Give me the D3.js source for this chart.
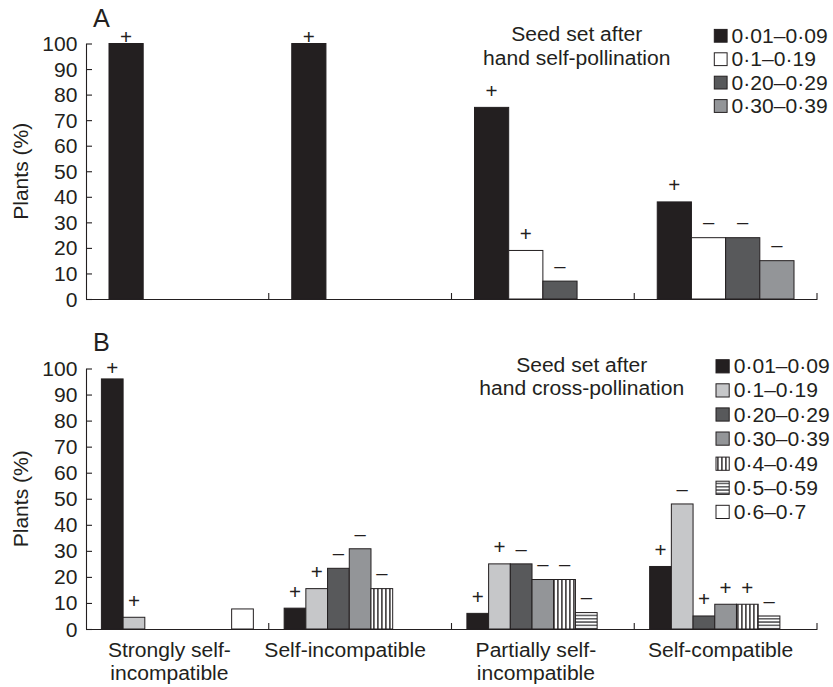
<!DOCTYPE html>
<html><head><meta charset="utf-8">
<script src="https://cdn.jsdelivr.net/npm/d3@7"></script>
<style>body{margin:0;background:#fff}svg{display:block}text{font-family:"Liberation Sans",Arial,Helvetica,sans-serif;fill:#231f20}</style>
</head><body><svg id="c" width="833" height="687"></svg>
<script>
// ---------------- DATA ----------------
const categories = ["Strongly self-incompatible", "Self-incompatible", "Partially self-incompatible", "Self-compatible"];
const categoryLines = [["Strongly self-", "incompatible"], ["Self-incompatible"], ["Partially self-", "incompatible"], ["Self-compatible"]];
const yTicks = [0, 10, 20, 30, 40, 50, 60, 70, 80, 90, 100];

// Panel A: seed set after hand self-pollination
const titleA = ["Seed set after", "hand self-pollination"];
const seriesA = ["0·01–0·09", "0·1–0·19", "0·20–0·29", "0·30–0·39"];
const valuesA = [
  [100, null, null, null],
  [100, null, null, null],
  [75, 19, 7, null],
  [38, 24, 24, 15]
];
const signsA = [
  ["+", "", "", ""],
  ["+", "", "", ""],
  ["+", "+", "–", ""],
  ["+", "–", "–", "–"]
];

// Panel B: seed set after hand cross-pollination
const titleB = ["Seed set after", "hand cross-pollination"];
const seriesB = ["0·01–0·09", "0·1–0·19", "0·20–0·29", "0·30–0·39", "0·4–0·49", "0·5–0·59", "0·6–0·7"];
const valuesB = [
  [96, 4.5, null, null, null, null, 7.7],
  [8, 15.5, 23.3, 30.8, 15.5, null, null],
  [6, 25, 25, 19, 19, 6.3, null],
  [24, 48, 5, 9.5, 9.5, 5, null]
];
const signsB = [
  ["+", "+", "", "", "", "", ""],
  ["+", "+", "–", "–", "–", "", ""],
  ["+", "+", "–", "–", "–", "–", ""],
  ["+", "–", "+", "+", "+", "–", ""]
];

// ---------------- STYLE / LAYOUT ----------------
const INK = "#231f20";
const fillsA = ["#231f20", "#ffffff", "#58595b", "#939598"];
const fillsB = ["#231f20", "#c6c7c9", "#58595b", "#939598", "url(#vstripe)", "url(#hstripe)", "#ffffff"];
const FS = 19.5, SX = 1.08;
const labelShift = [-8, -15, -7, -5];

const svg = d3.select("#c");
const defs = svg.append("defs");
const pv = defs.append("pattern").attr("id", "vstripe").attr("patternUnits", "userSpaceOnUse")
  .attr("width", 4).attr("height", 4);
pv.append("rect").attr("width", 4).attr("height", 4).attr("fill", "#fff");
pv.append("rect").attr("x", 1.2).attr("width", 1.4).attr("height", 4).attr("fill", INK);
const ph = defs.append("pattern").attr("id", "hstripe").attr("patternUnits", "userSpaceOnUse")
  .attr("width", 4).attr("height", 3.3);
ph.append("rect").attr("width", 4).attr("height", 3.3).attr("fill", "#fff");
ph.append("rect").attr("y", 1).attr("width", 4).attr("height", 1.3).attr("fill", "#3a3a3c");

function T(sel, x, y, s, o = {}) {
  return sel.append("text")
    .attr("transform", `translate(${x},${y})${o.rot ? ` rotate(${o.rot})` : ""} scale(${o.sx ?? SX},1)`)
    .attr("text-anchor", o.anchor || "start")
    .attr("font-size", o.fs || FS)
    .text(s);
}

const x0 = d3.scaleBand().domain(categories).range([86, 817]).padding(0);
const bw = x0.bandwidth();

function panel(cfg) {
  const g = svg.append("g");
  const y = d3.scaleLinear().domain([0, 100]).range(cfg.yRange);
  const x1 = d3.scaleBand().domain(cfg.series).range(cfg.innerRange).padding(0);

  // bars
  categories.forEach((c, ci) => {
    cfg.series.forEach((s, si) => {
      const v = cfg.values[ci][si];
      if (v == null) return;
      g.append("rect")
        .attr("x", x0(c) + x1(s)).attr("y", y(v))
        .attr("width", x1.bandwidth()).attr("height", y(0) - y(v))
        .attr("fill", cfg.fills[si]).attr("stroke", INK).attr("stroke-width", 1);
      const sg = cfg.signs[ci][si];
      if (sg) {
        const off = sg === "+" ? 16.5 : 13.5;
        const cy = Math.max(y(v) - off, y(100) - cfg.signCeil);
        const cx = x0(c) + x1(s) + x1.bandwidth() / 2;
        if (sg === "+") T(g, cx, cy + 6.9, "+", { anchor: "middle", fs: 20, sx: 1.03 });
        else T(g, cx, cy + 5.3, "–", { anchor: "middle", fs: 19.5, sx: 1.04 });
      }
    });
  });

  // y axis
  const ya = g.append("g").attr("transform", `translate(86,0)`)
    .call(d3.axisLeft(y).tickValues(yTicks).tickSizeInner(-6).tickSizeOuter(0).tickPadding(8.5));
  ya.attr("font-family", null).attr("font-size", null);
  ya.selectAll("path,line").attr("stroke", INK).attr("stroke-width", 1.1);
  ya.selectAll("text").attr("font-size", FS).attr("fill", INK)
    .attr("x", -8.5 / SX).attr("transform", `scale(${SX},1)`).attr("dy", "0.36em");

  // x axis
  const xa = g.append("g").attr("transform", `translate(0,${y(0)})`)
    .call(d3.axisBottom(x0).tickSize(0).tickFormat(""));
  xa.select(".domain").attr("stroke", INK).attr("stroke-width", 1.1);
  categories.forEach(c => {
    g.append("line").attr("x1", x0(c) + bw).attr("x2", x0(c) + bw)
      .attr("y1", y(0)).attr("y2", y(0) - 6).attr("stroke", INK).attr("stroke-width", 1.1);
  });

  // panel letter and axis title
  T(g, 93, cfg.letterY, cfg.letter, { fs: 25, sx: 1.01 });
  T(g, 28, (cfg.yRange[0] + cfg.yRange[1]) / 2, "Plants (%)", { rot: -90, anchor: "middle" });

  // title
  T(g, cfg.titleX, cfg.titleY[0], cfg.title[0], { anchor: "middle" });
  T(g, cfg.titleX, cfg.titleY[1], cfg.title[1], { anchor: "middle" });

  // legend
  cfg.series.forEach((s, i) => {
    const cy = cfg.legY0 + i * cfg.legStep + (i >= 4 ? cfg.legExtra : 0);
    g.append("rect").attr("x", cfg.legX).attr("y", cy - cfg.sw / 2)
      .attr("width", cfg.sw).attr("height", cfg.sw)
      .attr("fill", cfg.fills[i]).attr("stroke", INK).attr("stroke-width", 1);
    T(g, cfg.legX + cfg.sw + 4.5, cy + 7, s);
  });

  if (cfg.catLabels) {
    categories.forEach((c, ci) => {
      categoryLines[ci].forEach((ln, li) => {
        T(g, x0(c) + bw / 2 + labelShift[ci], 656.5 + li * 23, ln, { anchor: "middle" });
      });
    });
  }
}

panel({
  series: seriesA, values: valuesA, signs: signsA, fills: fillsA,
  yRange: [299, 43.5], innerRange: [23, 159.75], signCeil: 6,
  letter: "A", letterY: 27, title: titleA, titleX: 576.7, titleY: [41, 64.5],
  legX: 714.3, legY0: 35.8, legStep: 23.4, legExtra: 0, sw: 12.8, catLabels: false
});
panel({
  series: seriesB, values: valuesB, signs: signsB, fills: fillsB,
  yRange: [629, 368.5], innerRange: [15.4, 167.35], signCeil: 0.5,
  letter: "B", letterY: 351, title: titleB, titleX: 581.7, titleY: [371.5, 395],
  legX: 716, legY0: 366.3, legStep: 24.1, legExtra: 1, sw: 13.2, catLabels: true
});
</script>
</body></html>
